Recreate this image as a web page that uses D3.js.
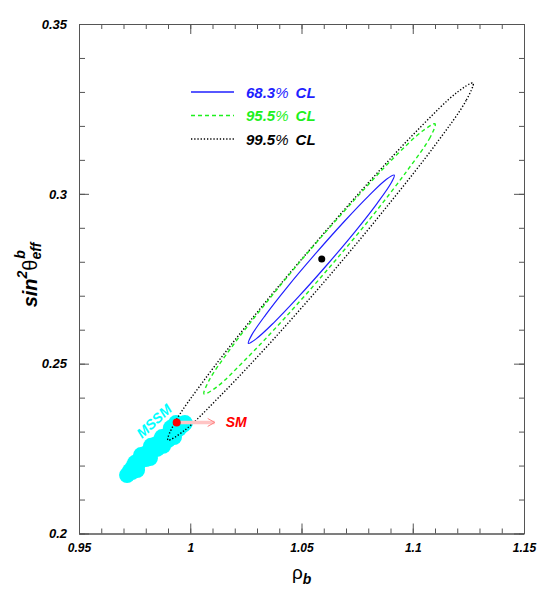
<html>
<head>
  <title>rho_b vs sin2theta_eff^b</title>
  <script src="https://d3js.org/d3.v7.min.js"></script>
  <style>
    body { margin: 0; background: #fff; }
    text { font-family: "Liberation Sans", Arial, sans-serif; }
    .axis .domain { stroke: #555; }
    .axis line { stroke: #555; }
    .tick-label { font-size: 13px; font-weight: bold; font-style: italic; fill: #000; }
  </style>
</head>
<body>
  <div id="chart"></div>

  <script type="text/javascript">

    // contours (rho_b, sin^2 theta_eff^b)
    var cl683 = [
      [1.0917, 0.3055], [1.0902, 0.3031], [1.0840, 0.2972], [1.0740, 0.2888],
      [1.0616, 0.2792], [1.0488, 0.2698], [1.0376, 0.2621], [1.0296, 0.2573],
      [1.0261, 0.2560], [1.0276, 0.2584], [1.0338, 0.2643], [1.0438, 0.2727],
      [1.0562, 0.2823], [1.0690, 0.2917], [1.0802, 0.2994], [1.0882, 0.3043]
    ];
    var cl955 = [
      [1.1100, 0.3206], [1.1078, 0.3166], [1.0979, 0.3072], [1.0821, 0.2937],
      [1.0625, 0.2783], [1.0423, 0.2633], [1.0245, 0.2510], [1.0118, 0.2431],
      [1.0062, 0.2411], [1.0084, 0.2450], [1.0182, 0.2545], [1.0341, 0.2679],
      [1.0536, 0.2833], [1.0739, 0.2983], [1.0916, 0.3107], [1.1044, 0.3185]
    ];
    var cl995 = [
      [1.1271, 0.3326], [1.1240, 0.3275], [1.1109, 0.3151], [1.0898, 0.2974],
      [1.0640, 0.2770], [1.0373, 0.2571], [1.0139, 0.2408], [0.9973, 0.2303],
      [0.9900, 0.2275], [0.9931, 0.2327], [1.0062, 0.2451], [1.0272, 0.2628],
      [1.0531, 0.2831], [1.0797, 0.3030], [1.1031, 0.3194], [1.1198, 0.3298]
    ];

    // MSSM scan points
    var mssmScan = [
      [0.9716, 0.2172], [0.9729, 0.2184], [0.9743, 0.2196], [0.9752, 0.2208],
      [0.9765, 0.2205], [0.9774, 0.2219], [0.9788, 0.2222], [0.9797, 0.2234],
      [0.9810, 0.2234], [0.9819, 0.2246], [0.9833, 0.2249], [0.9842, 0.2261],
      [0.9855, 0.2258], [0.9864, 0.2272], [0.9878, 0.2272], [0.9887, 0.2284],
      [0.9900, 0.2287], [0.9909, 0.2299], [0.9922, 0.2302], [0.9931, 0.2314],
      [0.9945, 0.2314], [0.9954, 0.2322], [0.9967, 0.2319], [0.9976, 0.2325],
      [0.9936, 0.2325], [0.9913, 0.2311], [0.9873, 0.2284], [0.9824, 0.2258],
      [0.9779, 0.2231], [0.9738, 0.2181], [0.9801, 0.2219], [0.9851, 0.2249],
      [0.9900, 0.2275], [0.9949, 0.2308], [0.9878, 0.2258], [0.9819, 0.2222],
      [0.9927, 0.2284], [0.9761, 0.2187]
    ];

    var fitCenter = [1.0591, 0.2808];
    var smPoint = [0.9939, 0.2327];
    var mssmLabelAt = [0.9837, 0.2331];

    var xTicks = [0.95, 1, 1.05, 1.1, 1.15];
    var yTicks = [0.2, 0.25, 0.3, 0.35];
    var legendLabels = ["68.3", "95.5", "99.5"];
    var legendColors = ["#1f1fff", "#1ef01e", "#000"];
    var legendDash = [null, "4,3", "1.3,1.9"];

    // Setting up the graph dimensions and margins
    var margin = {top: 24, right: 21, bottom: 58.5, left: 79};
    var width = 545 - margin.left - margin.right;
    var height = 592 - margin.top - margin.bottom;

    var x = d3.scaleLinear().domain([0.95, 1.15]).range([0, width]);
    var y = d3.scaleLinear().domain([0.2, 0.35]).range([height, 0]);

    var xMinor = d3.range(0, 21).map(function(i) { return +(0.95 + i * 0.01).toFixed(2); });
    var yMinor = d3.range(0, 16).map(function(i) { return +(0.2 + i * 0.01).toFixed(2); });

    var svg = d3.select('#chart')
                .append('svg')
                  .attr('width', 545)
                  .attr('height', 592)
                .append('g')
                  .attr('transform', 'translate(' + margin.left + ',' + margin.top + ')');

    // ticks on all four sides, pointing inward
    function addAxis(gen, tx, ty, cls) {
      return svg.append('g')
                .attr('class', 'axis ' + cls)
                .attr('transform', 'translate(' + tx + ',' + ty + ')')
                .call(gen);
    }
    addAxis(d3.axisBottom(x).tickValues(xMinor).tickSize(-5).tickSizeOuter(0).tickFormat(''), 0, height, 'minor');
    addAxis(d3.axisTop(x).tickValues(xMinor).tickSize(-5).tickSizeOuter(0).tickFormat(''), 0, 0, 'minor');
    addAxis(d3.axisLeft(y).tickValues(yMinor).tickSize(-6).tickSizeOuter(0).tickFormat(''), 0, 0, 'minor');
    addAxis(d3.axisRight(y).tickValues(yMinor).tickSize(-5).tickSizeOuter(0).tickFormat(''), width, 0, 'minor');

    var xAxis = addAxis(d3.axisBottom(x).tickValues(xTicks).tickSize(-10).tickSizeOuter(0).tickPadding(10).tickFormat(String), 0, height, 'major');
    var yAxis = addAxis(d3.axisLeft(y).tickValues(yTicks).tickSize(-10).tickSizeOuter(0).tickPadding(12).tickFormat(String), 0, 0, 'major');
    addAxis(d3.axisTop(x).tickValues(xTicks).tickSize(-10).tickSizeOuter(0).tickFormat(''), 0, 0, 'major');
    addAxis(d3.axisRight(y).tickValues(yTicks).tickSize(-10).tickSizeOuter(0).tickFormat(''), width, 0, 'major');

    xAxis.selectAll('text').attr('class', 'tick-label').style('font-size', '12px');
    yAxis.selectAll('text').attr('class', 'tick-label');
    svg.selectAll('.axis .domain').attr('stroke', '#555');

    // MSSM scan (cyan blob)
    svg.append('g')
       .selectAll('circle.mssm')
       .data(mssmScan)
       .enter().append('circle')
         .attr('class', 'mssm')
         .attr('cx', function(d) { return x(d[0]); })
         .attr('cy', function(d) { return y(d[1]); })
         .attr('r', 8)
         .attr('fill', '#00ffff');

    svg.append('text')
       .text('MSSM')
       .attr('transform', 'translate(' + x(mssmLabelAt[0]) + ',' + y(mssmLabelAt[1]) + ') rotate(-43)')
       .attr('text-anchor', 'middle')
       .attr('dy', '0.35em')
       .style('font-size', '14px')
       .style('font-weight', 'bold')
       .style('font-style', 'italic')
       .style('fill', '#00ffff');

    // contours
    var contour = d3.line()
                    .x(function(d) { return x(d[0]); })
                    .y(function(d) { return y(d[1]); })
                    .curve(d3.curveCatmullRomClosed.alpha(0.5));

    [cl995, cl955, cl683].forEach(function(pts, i) {
      var k = 2 - i;
      svg.append('path')
         .attr('d', contour(pts))
         .attr('fill', 'none')
         .attr('stroke', legendColors[k])
         .attr('stroke-width', k == 0 ? 1.2 : 1.4)
         .attr('stroke-dasharray', legendDash[k]);
    });

    // best fit
    svg.append('circle')
       .attr('cx', x(fitCenter[0]))
       .attr('cy', y(fitCenter[1]))
       .attr('r', 3.5)
       .attr('fill', '#000');

    // SM point with arrow
    var smx = x(smPoint[0]), smy = y(smPoint[1]);
    svg.append('line')
       .attr('x1', smx + 4).attr('y1', smy)
       .attr('x2', smx + 38).attr('y2', smy)
       .attr('stroke', '#ffc4c4')
       .attr('stroke-width', 3.5);
    svg.append('path')
       .attr('d', 'M' + (smx + 31) + ',' + (smy - 4) + 'L' + (smx + 38) + ',' + smy + 'L' + (smx + 31) + ',' + (smy + 4))
       .attr('fill', 'none')
       .attr('stroke', '#ff8080')
       .attr('stroke-width', 1);
    svg.append('circle')
       .attr('cx', smx)
       .attr('cy', smy)
       .attr('r', 4)
       .attr('fill', '#ff0000');
    svg.append('text')
       .text('SM')
       .attr('x', smx + 49)
       .attr('y', smy + 4.5)
       .style('font-size', '14px')
       .style('font-weight', 'bold')
       .style('font-style', 'italic')
       .style('fill', '#ff0000');

    // legend
    var legend = svg.append('g')
                    .attr('class', 'legend')
                    .attr('transform', 'translate(112,68)');
    var rows = legend.selectAll('g')
                     .data(legendLabels)
                     .enter().append('g')
                       .attr('transform', function(d, i) { return 'translate(0,' + (i * 23.5) + ')'; });
    rows.append('line')
        .attr('x1', 0).attr('x2', 43)
        .attr('stroke', function(d, i) { return legendColors[i]; })
        .attr('stroke-width', 1.3)
        .attr('stroke-dasharray', function(d, i) { return legendDash[i]; });
    var lt = rows.append('text')
                 .attr('x', 55)
                 .attr('y', 5.5)
                 .style('font-size', '15px')
                 .style('font-style', 'italic')
                 .style('fill', function(d, i) { return legendColors[i]; });
    lt.append('tspan').style('font-weight', 'bold').text(function(d) { return d; });
    lt.append('tspan').style('font-weight', 'normal').text('%');
    lt.append('tspan').style('font-weight', 'bold').attr('dx', 7).text('CL');

    // axis titles
    var xt = svg.append('text')
                .attr('x', 213)
                .attr('y', height + 45)
                .style('fill', '#000');
    xt.append('tspan').style('font-size', '19px').text('\u03c1');
    xt.append('tspan').attr('dy', 5).style('font-size', '14px').style('font-weight', 'bold').style('font-style', 'italic').text('b');

    var yt = svg.append('text')
                .attr('transform', 'translate(-42,251) rotate(-90)')
                .attr('text-anchor', 'middle')
                .style('fill', '#000')
                .style('font-weight', 'bold')
                .style('font-style', 'italic');
    yt.append('tspan').style('font-size', '20px').text('sin');
    yt.append('tspan').attr('dy', -10).style('font-size', '14px').text('2');
    yt.append('tspan').attr('dy', 10).style('font-size', '20px').style('font-weight', 'normal').style('font-style', 'normal').text('\u03b8');
    yt.append('tspan').attr('dy', 4).style('font-size', '14px').text('eff');
    yt.append('tspan').attr('dx', -16).attr('dy', -16).style('font-size', '14px').text('b');

  </script>
</body>
</html>
